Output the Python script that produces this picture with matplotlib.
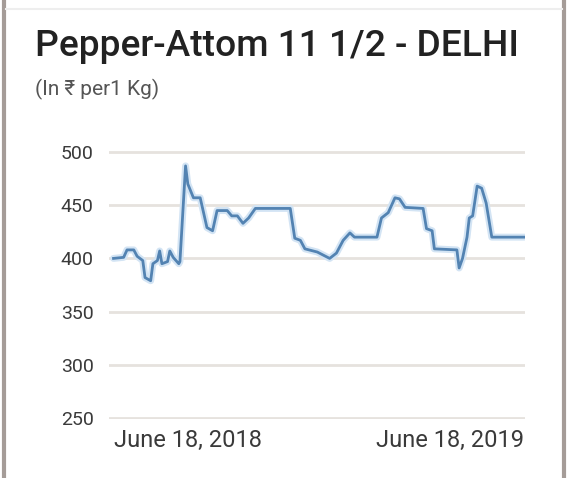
import matplotlib
matplotlib.use("Agg")
import matplotlib.pyplot as plt
import numpy as np
import pandas as pd
from matplotlib.lines import Line2D

plt.rcParams['font.family'] = ['Roboto', 'DejaVu Sans']

title = "Pepper-Attom 11 1/2 - DELHI"
subtitle = "(In \u20b9 per1 Kg)"

start_date = "2018-06-18"
day_offsets = [0, 9, 12, 18, 21, 26, 28, 33, 35, 39, 41, 43, 48, 50, 53, 58, 59,
               64, 66, 71, 77, 83, 88, 92, 101, 105, 110, 115, 120, 126, 157,
               161, 166, 170, 181, 192, 198, 204, 210, 214, 234, 238, 244, 250,
               254, 259, 275, 278, 283, 285, 305, 307, 310, 314, 316, 319, 323,
               327, 331, 336, 363, 365]
prices = [400, 401, 408, 408, 402, 398, 382, 379, 395, 398, 407, 395, 397, 407,
          401, 395, 397, 487, 470, 457, 457, 429, 426, 445, 445, 440, 440, 433,
          438, 447, 447, 419, 417, 409, 406, 400, 405, 417, 424, 420, 420, 438,
          443, 457, 456, 448, 447, 428, 426, 409, 408, 391, 400, 420, 438, 440,
          468, 466, 452, 420, 420, 420]
y_ticks = [250, 300, 350, 400, 450, 500]
x_tick_labels = ["June 18, 2018", "June 18, 2019"]

dates = pd.Timestamp(start_date) + pd.to_timedelta(day_offsets, unit="D")

fig = plt.figure(figsize=(5.72, 4.78), dpi=100)
fig.patch.set_facecolor("white")

ax = fig.add_axes([109/572, 1 - 419/478, (525 - 109)/572, (419 - 151)/478])
ax.set_facecolor("none")

ax.plot(dates, prices, color="#d3e4f4", lw=5.0, solid_joinstyle="round",
        solid_capstyle="round", zorder=2)
ax.plot(dates, prices, color="#5383b2", lw=2.0, solid_joinstyle="round", zorder=3)

ax.set_ylim(249, 501)
ax.set_xlim(dates[0] - pd.Timedelta(days=4), dates[-1] + pd.Timedelta(days=0.5))
ax.set_yticks(y_ticks)
ax.set_yticklabels([str(v) for v in y_ticks])
ax.yaxis.grid(True, color="#e6e2de", lw=2.0)
ax.set_axisbelow(True)
for s in ax.spines.values():
    s.set_visible(False)
ax.tick_params(axis="y", length=0, pad=11, labelsize=14, labelcolor="#3a3a3a")
ax.tick_params(axis="x", length=0, pad=7, labelsize=17, labelcolor="#3a3a3a")

ax.set_xticks([dates[0], dates[-1]])
ax.set_xticklabels(x_tick_labels)
xl = ax.get_xticklabels()
xl[0].set_ha("left")
xl[1].set_ha("right")

fig.text(35/572, 1 - 46/478, title, fontsize=26.7, color="#222222",
         va="center", ha="left", fontweight="medium")
fig.text(35/572, 1 - 89/478, subtitle, fontsize=15, color="#555555",
         va="center", ha="left")

# frame lines
fig.add_artist(Line2D([4/572, 4/572], [0, 1], transform=fig.transFigure,
                      color="#a59c98", lw=3))
fig.add_artist(Line2D([564/572, 564/572], [0, 1], transform=fig.transFigure,
                      color="#a59c98", lw=3))
fig.add_artist(Line2D([6/572, 562/572], [1 - 9/478, 1 - 9/478], transform=fig.transFigure,
                      color="#eeeeee", lw=1.5))

fig.savefig("out.png", dpi=100)
